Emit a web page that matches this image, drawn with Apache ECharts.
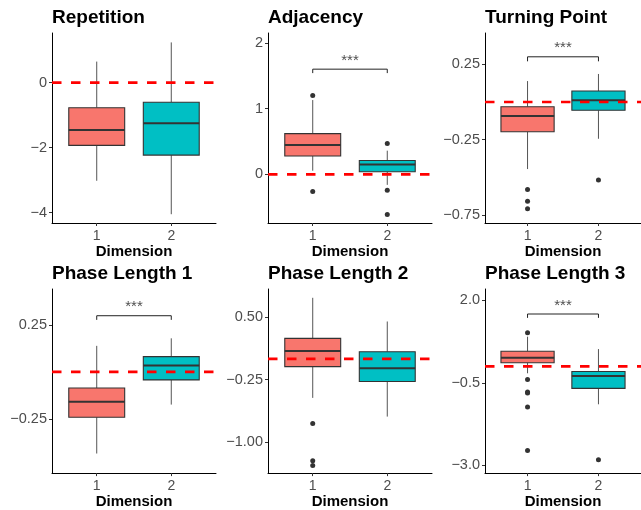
<!DOCTYPE html>
<html><head><meta charset="utf-8">
<script src="https://cdn.jsdelivr.net/npm/echarts@6/dist/echarts.min.js"></script>
<style>html,body{margin:0;padding:0;background:#fff}#c{width:641px;height:510px}</style>
</head><body><div id="c"></div>
<script>
// ---- data ----
const panelTitles = ['Repetition', 'Adjacency', 'Turning Point', 'Phase Length 1', 'Phase Length 2', 'Phase Length 3'];
const dimensions = [1, 2];
const xTickLabels = ['1', '2'];
const xAxisTitle = 'Dimension';
const yMins = [-4.32, -0.74, -0.803, -0.538, -1.375, -3.236];
const yMaxs = [1.53, 2.15, 0.458, 0.44, 0.84, 2.345];
const yTicks = [[-4, -2, 0], [0, 1, 2], [-0.75, -0.25, 0.25], [-0.25, 0.25], [-1.00, -0.25, 0.50], [-3.0, -0.5, 2.0]];
const yDecimals = [0, 0, 2, 2, 2, 1];
// [lower whisker, Q1, median, Q3, upper whisker]
const dim1Stats = [
  [-3.02, -1.93, -1.46, -0.77, 0.65],
  [0.055, 0.28, 0.445, 0.62, 1.13],
  [-0.445, -0.197, -0.093, -0.031, 0.139],
  [-0.434, -0.241, -0.159, -0.086, 0.138],
  [-0.47, -0.094, 0.093, 0.246, 0.734],
  [-0.21, 0.11, 0.258, 0.456, 0.899]
];
const dim2Stats = [
  [-4.05, -2.23, -1.25, -0.60, 1.24],
  [-0.16, 0.04, 0.15, 0.21, 0.36],
  [-0.244, -0.055, 0.011, 0.073, 0.186],
  [-0.174, -0.043, 0.034, 0.081, 0.178],
  [-0.695, -0.273, -0.114, 0.085, 0.449],
  [-1.15, -0.667, -0.294, -0.155, 0.524]
];
const dim1Outliers = [
  [],
  [1.2, -0.26],
  [-0.58, -0.659, -0.708],
  [],
  [-0.777, -1.227, -1.285],
  [1.017, -0.40, -0.775, -0.81, -1.23, -2.55]
];
const dim2Outliers = [
  [],
  [0.47, -0.24, -0.61],
  [-0.518],
  [],
  [],
  [-2.83]
];
const referenceLine = [0, 0, 0, 0, 0, 0];
const bracketTop = [null, 1.6, 0.30, 0.298, null, 1.587];
const bracketFoot = [null, 1.54, 0.27, 0.276, null, 1.47];
const sigLabels = [null, '***', '***', '***', null, '***'];

// ---- style / layout ----
const boxFills = ['#F8766D', '#00BFC4'];
const boxWidth = 0.75;
const xMin = 0.4, xMax = 2.6;
const gridLefts = [52, 268, 485];
const gridTops = [33, 289];
const gridHeights = [190, 189];
const gridWidth = 164;
const titleTops = [8, 264];
const FONT = '"Liberation Sans", Arial, Helvetica, sans-serif';

function fmtY(v, d) {
  return (v < 0 ? '\u2212' : '') + Math.abs(v).toFixed(d);
}

function renderBox(params, api) {
  const x = api.value(0);
  const p = [1, 2, 3, 4, 5].map(d => api.coord([x, api.value(d)]));
  const half = api.size([boxWidth, 0])[0] / 2;
  const cx = p[0][0];
  const fill = boxFills[api.value(6)];
  return {
    type: 'group',
    children: [
      { type: 'line', shape: { x1: cx, y1: p[0][1], x2: cx, y2: p[1][1] }, style: { stroke: '#555', lineWidth: 1 } },
      { type: 'line', shape: { x1: cx, y1: p[3][1], x2: cx, y2: p[4][1] }, style: { stroke: '#555', lineWidth: 1 } },
      { type: 'rect', shape: { x: cx - half, y: p[3][1], width: 2 * half, height: p[1][1] - p[3][1] }, style: { fill: fill, stroke: '#333', lineWidth: 1.1 } },
      { type: 'line', shape: { x1: cx - half, y1: p[2][1], x2: cx + half, y2: p[2][1] }, style: { stroke: '#333', lineWidth: 2 } }
    ]
  };
}

const grids = [], xAxes = [], yAxes = [], titles = [], series = [];
for (let i = 0; i < 6; i++) {
  const col = i % 3, row = Math.floor(i / 3);
  grids.push({ left: gridLefts[col], top: gridTops[row], width: gridWidth, height: gridHeights[row], containLabel: false });
  titles.push({
    text: panelTitles[i], left: gridLefts[col], top: titleTops[row], padding: 0,
    textStyle: { fontFamily: FONT, fontSize: 19, fontWeight: 'bold', color: '#000' }
  });
  xAxes.push({
    type: 'value', gridIndex: i, min: xMin, max: xMax,
    name: xAxisTitle, nameLocation: 'middle', nameGap: 17,
    nameTextStyle: { fontFamily: FONT, fontSize: 15, fontWeight: 'bold', color: '#000' },
    axisLine: { show: true, onZero: false, lineStyle: { color: '#000', width: 1 } },
    axisTick: { show: true, length: 3, customValues: dimensions, lineStyle: { color: '#333' } },
    axisLabel: { show: true, margin: 6, customValues: dimensions, fontFamily: FONT, fontSize: 14, color: '#4D4D4D',
      formatter: v => xTickLabels[dimensions.indexOf(v)] },
    splitLine: { show: false }
  });
  yAxes.push({
    type: 'value', gridIndex: i, min: yMins[i], max: yMaxs[i],
    axisLine: { show: true, onZero: false, lineStyle: { color: '#000', width: 1 } },
    axisTick: { show: true, length: 3, customValues: yTicks[i], lineStyle: { color: '#333' } },
    axisLabel: { show: true, margin: 5, customValues: yTicks[i], fontFamily: FONT, fontSize: 14.5, color: '#4D4D4D',
      formatter: v => fmtY(v, yDecimals[i]) },
    splitLine: { show: false }
  });
  series.push({
    type: 'custom', xAxisIndex: i, yAxisIndex: i, renderItem: renderBox, z: 2,
    encode: { x: 0, y: [1, 2, 3, 4, 5] },
    data: [[dimensions[0]].concat(dim1Stats[i], [0]), [dimensions[1]].concat(dim2Stats[i], [1])]
  });
  const outs = dim1Outliers[i].map(v => [dimensions[0], v]).concat(dim2Outliers[i].map(v => [dimensions[1], v]));
  series.push({
    type: 'scatter', xAxisIndex: i, yAxisIndex: i, symbol: 'circle', symbolSize: 5, z: 3,
    itemStyle: { color: '#333', opacity: 1 }, data: outs
  });
  series.push({
    type: 'line', xAxisIndex: i, yAxisIndex: i, symbol: 'none', z: 4,
    lineStyle: { color: '#FF0000', width: 2.7, type: [9.5, 9.5] },
    data: [[xMin, referenceLine[i]], [xMax, referenceLine[i]]]
  });
  if (bracketTop[i] !== null) {
    series.push({
      type: 'line', xAxisIndex: i, yAxisIndex: i, symbol: 'none', z: 4,
      lineStyle: { color: '#222', width: 1 },
      data: [[dimensions[0], bracketFoot[i]], [dimensions[0], bracketTop[i]], [dimensions[1], bracketTop[i]], [dimensions[1], bracketFoot[i]]]
    });
    series.push({
      type: 'scatter', xAxisIndex: i, yAxisIndex: i, symbolSize: 0.1, z: 5,
      itemStyle: { color: 'rgba(0,0,0,0)' },
      label: { show: true, position: 'top', distance: 1, formatter: sigLabels[i], fontFamily: FONT, fontSize: 15, color: '#222' },
      data: [[(dimensions[0] + dimensions[1]) / 2, bracketTop[i]]]
    });
  }
}

const chart = echarts.init(document.getElementById('c'), null, { renderer: 'canvas' });
chart.setOption({
  animation: false,
  backgroundColor: '#fff',
  title: titles,
  grid: grids,
  xAxis: xAxes,
  yAxis: yAxes,
  series: series
});
</script>
</body></html>
